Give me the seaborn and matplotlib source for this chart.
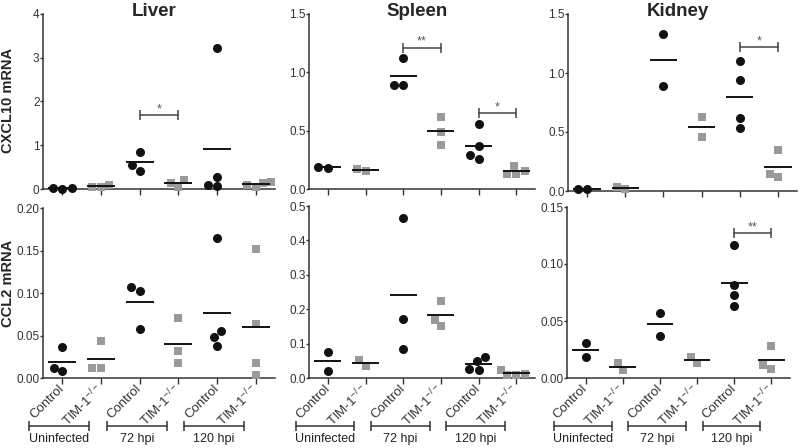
import seaborn as sns
import matplotlib.pyplot as plt
import pandas as pd
import numpy as np

# -------------------
# Data (each list = one group of mice)
# -------------------
organs = ["Liver", "Spleen", "Kidney"]
stages = ["Uninfected", "72 hpi", "120 hpi"]
cats = ["U-ctrl", "U-tim", "72-ctrl", "72-tim", "120-ctrl", "120-tim"]
tick_labels = ["Control", "TIM-1$^{-/-}$"] * 3

liver_cxcl10 = [[0.02, 0.01, 0.02], [0.10, 0.04, 0.04], [0.85, 0.55, 0.42],
                [0.20, 0.05, 0.14], [3.22, 0.28, 0.10, 0.07], [0.14, 0.05, 0.10, 0.15]]
spleen_cxcl10 = [[0.18, 0.19], [0.15, 0.17], [1.12, 0.89, 0.89],
                 [0.62, 0.49, 0.38], [0.56, 0.37, 0.29, 0.26], [0.20, 0.15, 0.13, 0.13]]
kidney_cxcl10 = [[0.02, 0.02], [0.02, 0.03], [1.33, 0.89],
                 [0.63, 0.46], [1.10, 0.94, 0.62, 0.53], [0.35, 0.12, 0.14]]

liver_ccl2 = [[0.037, 0.008, 0.012], [0.043, 0.012, 0.012], [0.107, 0.102, 0.058],
              [0.071, 0.032, 0.018], [0.165, 0.055, 0.048, 0.038], [0.152, 0.064, 0.018, 0.004]]
spleen_ccl2 = [[0.077, 0.019], [0.052, 0.036], [0.465, 0.171, 0.085],
               [0.224, 0.170, 0.152], [0.062, 0.049, 0.025, 0.023], [0.022, 0.013, 0.008, 0.010]]
kidney_ccl2 = [[0.031, 0.018], [0.013, 0.007], [0.057, 0.037],
               [0.018, 0.013], [0.117, 0.082, 0.073, 0.063], [0.028, 0.011, 0.008]]

# significance bars: (group a, group b, level, label)
sig_cxcl10 = [[(2, 3, 1.68, "*")], [(2, 3, 1.21, "**"), (4, 5, 0.65, "*")], [(4, 5, 1.22, "*")]]
sig_ccl2 = [[], [], [(4, 5, 0.127, "**")]]

yticks_cxcl10 = [[0, 1, 2, 3, 4], [0, 0.5, 1.0, 1.5], [0, 0.5, 1.0, 1.5]]
yfmt_cxcl10 = ["{:.0f}", "{:.1f}", "{:.1f}"]
yticks_ccl2 = [[0, 0.05, 0.10, 0.15, 0.20], [0, 0.1, 0.2, 0.3, 0.4, 0.5], [0, 0.05, 0.10, 0.15]]
yfmt_ccl2 = ["{:.2f}", "{:.1f}", "{:.2f}"]


def to_frame(groups):
    rows = []
    for i, vals in enumerate(groups):
        for v in vals:
            rows.append({"cat": cats[i], "geno": "Control" if i % 2 == 0 else "TIM", "val": v})
    return pd.DataFrame(rows)


# -------------------
# Styling
# -------------------
sns.set_style("ticks")
plt.rcParams["font.family"] = ["Liberation Sans", "DejaVu Sans"]
plt.rcParams["mathtext.fontset"] = "custom"
plt.rcParams["mathtext.rm"] = "Liberation Sans"
plt.rcParams["axes.edgecolor"] = "#333333"
plt.rcParams["axes.linewidth"] = 1.1
plt.rcParams["xtick.color"] = "#333333"
plt.rcParams["ytick.color"] = "#333333"

W, H = 800, 448
fig = plt.figure(figsize=(8, 4.48), dpi=100)

boxes_top = [(43, 14, 275, 189), (309, 14, 535, 189), (568, 14, 797, 191)]
boxes_bot = [(43, 208, 275, 378), (309, 206, 535, 378), (567, 207, 790, 378)]


def add_ax(box):
    x0, y0, x1, y1 = box
    return fig.add_axes([x0 / W, 1 - y1 / H, (x1 - x0) / W, (y1 - y0) / H])


def draw_panel(ax, groups, yticks, yfmt, sigs, bottom, box_h):
    df = to_frame(groups)
    sns.swarmplot(data=df[df.geno == "Control"], x="cat", y="val", order=cats,
                  color="#111111", marker="o", size=6.5, linewidth=0, ax=ax, clip_on=False)
    sns.swarmplot(data=df[df.geno == "TIM"], x="cat", y="val", order=cats,
                  color="#9a9a9a", marker="s", size=6, linewidth=0, ax=ax, clip_on=False)
    means = df.groupby("cat")["val"].mean()
    for i, c in enumerate(cats):
        ax.hlines(means[c], i - 0.36, i + 0.36, color="#111111", lw=1.4, zorder=3)

    for a, b, lvl, s in sigs:
        ax.plot([a, b], [lvl, lvl], color="#444444", lw=1.1, marker="|", ms=7, mew=1.1)
        ax.text((a + b) / 2, lvl, s, ha="center", va="bottom", fontsize=9, color="#555555")

    ax.set_xlim(-0.5, 5.5)
    ax.set_ylim(0, yticks[-1])
    ax.set_yticks(yticks)
    ax.set_yticklabels([yfmt.format(t) for t in yticks], fontsize=8.5)
    ax.set_xticks(range(6))
    ax.tick_params(axis="x", length=4, width=1, pad=2.5)
    ax.tick_params(axis="y", length=2, width=1, pad=0.5)
    ax.set_xlabel("")
    ax.set_ylabel("")
    sns.despine(ax=ax)

    if bottom:
        ax.set_xticklabels(tick_labels, rotation=45, ha="right", va="center",
                           rotation_mode="anchor", fontsize=9.5)
        tr = ax.get_xaxis_transform()
        for k, st in enumerate(stages):
            x1, x2 = 2 * k - 0.85, 2 * k + 0.7
            ax.plot([x1, x2], [-48 / box_h] * 2, transform=tr, clip_on=False,
                    color="#333333", lw=1.1, marker="|", ms=7, mew=1.1)
            ax.text((x1 + x2) / 2, -61 / box_h, st, transform=tr, ha="center", va="center",
                    fontsize=9, color="#222222")
    else:
        ax.set_xticklabels([])


top_data = [liver_cxcl10, spleen_cxcl10, kidney_cxcl10]
bot_data = [liver_ccl2, spleen_ccl2, kidney_ccl2]

for j in range(3):
    ax = add_ax(boxes_top[j])
    draw_panel(ax, top_data[j], yticks_cxcl10[j], yfmt_cxcl10[j], sig_cxcl10[j], False,
               boxes_top[j][3] - boxes_top[j][1])
    cx = (boxes_top[j][0] + boxes_top[j][2]) / 2 - 5
    fig.text(cx / W, 1 - 11 / H, organs[j], ha="center", va="center",
             fontsize=13.5, fontweight="bold")

    ax = add_ax(boxes_bot[j])
    draw_panel(ax, bot_data[j], yticks_ccl2[j], yfmt_ccl2[j], sig_ccl2[j], True,
               boxes_bot[j][3] - boxes_bot[j][1])

fig.text(8.5 / W, 1 - 100 / H, "CXCL10 mRNA", rotation=90, ha="center", va="center",
         fontsize=10.5, fontweight="bold")
fig.text(8.5 / W, 1 - 283 / H, "CCL2 mRNA", rotation=90, ha="center", va="center",
         fontsize=10.5, fontweight="bold")

plt.savefig("out.png", dpi=100)
plt.close()
